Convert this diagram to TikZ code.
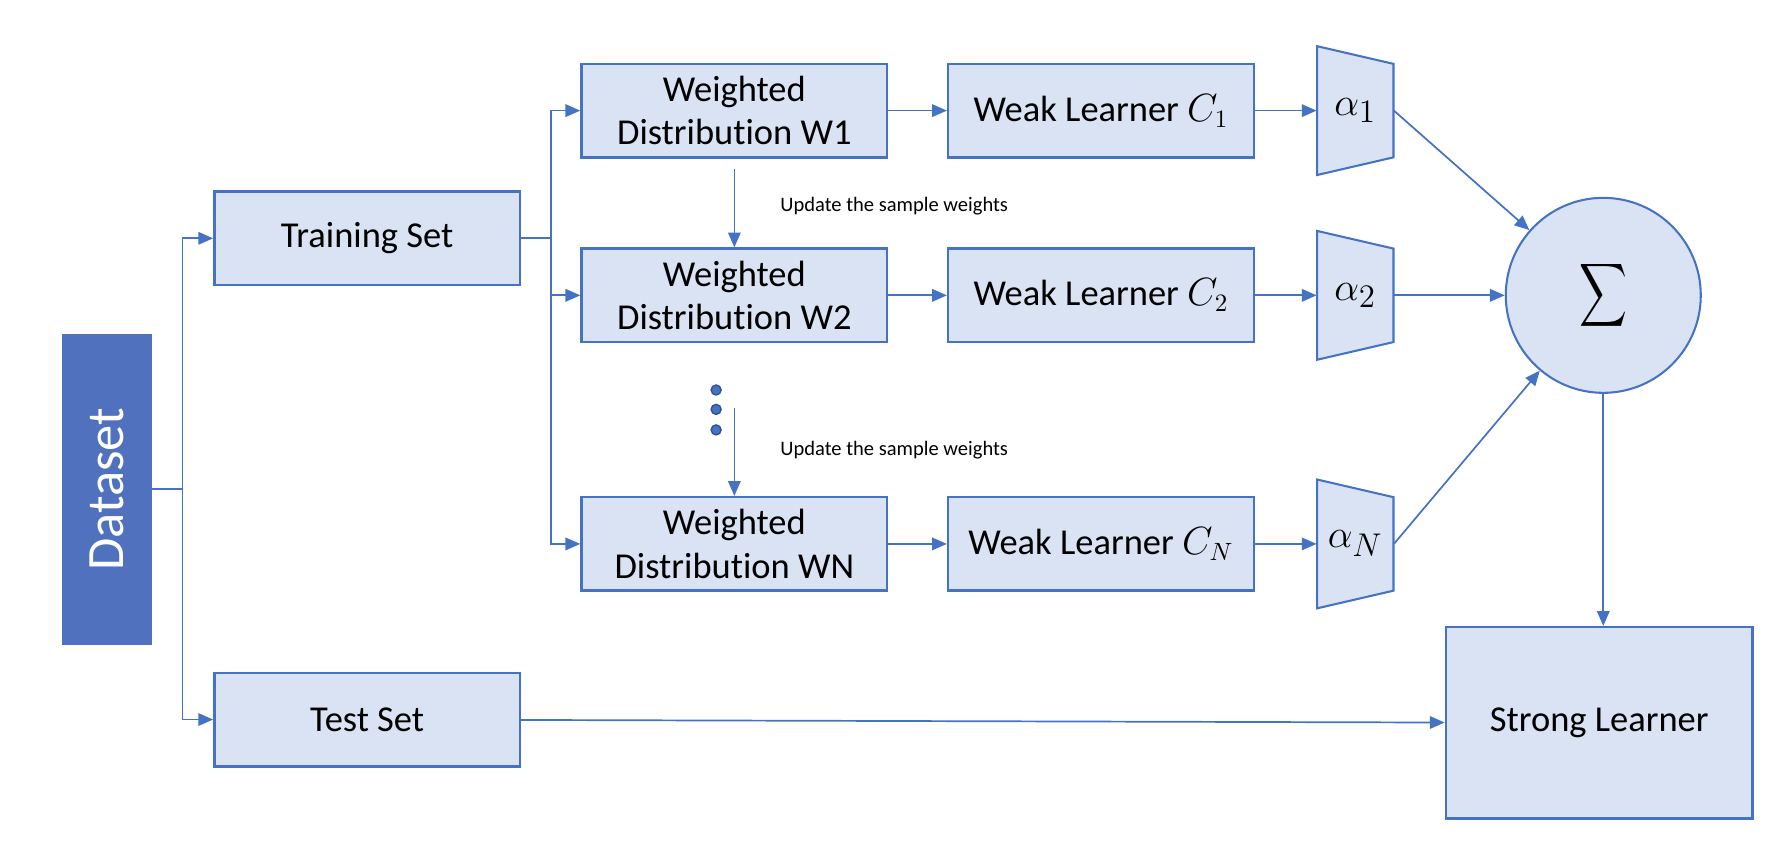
\documentclass[tikz,border=0pt]{standalone}
\usepackage[no-math]{fontspec}
\setmainfont{Carlito}[Ligatures=NoCommon]
\usepackage{graphicx}
\usetikzlibrary{arrows.meta, calc}

\definecolor{lineblue}{HTML}{4472C4}
\definecolor{boxfill}{HTML}{DAE3F3}
\definecolor{darkfill}{HTML}{4F71BE}
\definecolor{dotedge}{HTML}{2F528F}

\tikzset{
  stage/.style={draw=lineblue, fill=boxfill, line width=1.1pt, minimum width=134pt, minimum height=41pt, inner sep=0pt, align=center, font=\fontsize{16}{19}\selectfont},
  wire/.style={draw=lineblue, line width=0.75pt},
  link/.style={wire, -{Triangle[length=6.5pt,width=5.5pt]}},
  note/.style={inner sep=0pt, font=\fontsize{9}{11}\selectfont},
}

\begin{document}
\begin{tikzpicture}[x=0.5pt,y=0.5pt,yscale=-1,xscale=1]
\useasboundingbox (0,0) rectangle (1568,754);

%Shape: Rectangle [Dataset]
\node[draw=darkfill, fill=darkfill, text=white, rotate=90, minimum width=136pt, minimum height=39pt, inner sep=0pt, font=\fontsize{23}{27}\selectfont] (data) at (94,429) {Dataset};

%Shape: Rectangle [sets]
\node[stage] (train) at (322,209) {Training Set};
\node[stage] (test) at (322,631) {Test Set};

%Shape: Rectangle [weighted distributions]
\node[stage] (wd1) at (644,97) {Weighted\\Distribution W1};
\node[stage] (wd2) at (644,259) {Weighted\\Distribution W2};
\node[stage] (wdN) at (644,477) {Weighted\\Distribution WN};

%Shape: Rectangle [weak learners]
\node[stage] (wl1) at (965.5,97) {Weak Learner $C_1$};
\node[stage] (wl2) at (965.5,259) {Weak Learner $C_2$};
\node[stage] (wlN) at (965.5,477) {Weak Learner $C_N$};

%Shape: Trapezoid [weights]
\foreach \n/\y/\k in {a1/97/1, a2/259/2, aN/477/N}{
  \draw[draw=lineblue, fill=boxfill, line width=0.9pt] (1155,\y-56.5) -- (1222,\y-41) -- (1222,\y+41) -- (1155,\y+56.5) -- cycle;
  \node[minimum width=33.5pt, minimum height=56pt, inner sep=0pt, font=\fontsize{19}{22}\selectfont] (\n) at (1188.5,\y) {$\alpha_{\k}$};
}

%Shape: Circle [sum]
\node[circle, draw=lineblue, fill=boxfill, line width=0.9pt, minimum size=85.5pt, inner sep=0pt] (sum) at (1406,259) {\resizebox*{21pt}{31pt}{$\displaystyle\sum$}};

%Shape: Rectangle [strong learner]
\node[stage, minimum width=134.5pt, minimum height=84pt] (strong) at (1402.5,634) {Strong Learner};

%Shape: Dots
\foreach \y in {342,359,377}
  \node[circle, fill=lineblue, draw=dotedge, line width=0.6pt, minimum size=4.4pt, inner sep=0pt] (dot\y) at (628,\y) {};

%Straight Lines [dataset split]
\coordinate (split) at (160,429);
\draw[wire] (data.south) -- (split);
\draw[link] (split) |- (train.west);
\draw[link] (split) |- (test.west);

%Straight Lines [training fork]
\coordinate (fork) at (483,209);
\draw[wire] (train.east) -- (fork);
\foreach \n in {wd1,wd2,wdN}
  \draw[link] (fork) |- (\n.west);

%Straight Lines [rows]
\foreach \i in {1,2,N}{
  \draw[link] (wd\i) -- (wl\i);
  \draw[link] (wl\i) -- (a\i.west);
  \draw[link] (a\i.east) -- (sum);
}

%Straight Lines [updates]
\coordinate (up1) at ($(wd1.south)+(0,9)$);
\coordinate (upN) at (644,358);
\draw[link] (up1) -- (wd2.north);
\draw[link] (upN) -- (wdN.north);

%Straight Lines [to strong learner]
\draw[link] (sum) -- (sum |- strong.north);
\draw[link] (test) -- (strong);

% Text Node
\node[note, anchor=west] (upd1) at (684,181) {Update the sample weights};
% Text Node
\node[note, anchor=west] (updN) at (684,395) {Update the sample weights};

\end{tikzpicture}
\end{document}
